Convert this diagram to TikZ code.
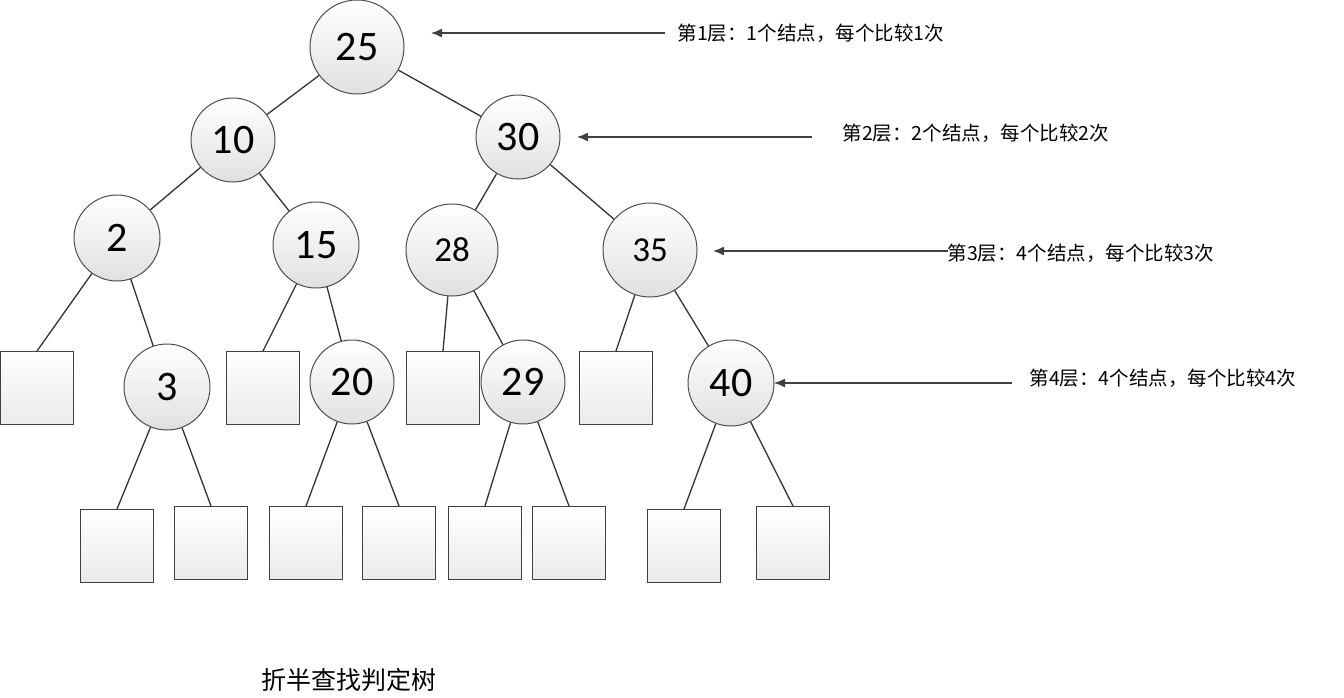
\documentclass[tikz,border=0pt]{standalone}
\usepackage{fontspec}
\setmainfont{Carlito}
\newfontfamily\cjk{Noto Sans CJK SC}
\usetikzlibrary{arrows.meta}
\begin{document}
\begin{tikzpicture}[x=1pt,y=-1pt,
  cnode/.style={circle,draw=black!70,line width=1pt,top color=white,bottom color=black!12,inner sep=0pt,font=\fontsize{42}{42}\selectfont},
  leaf/.style={rectangle,draw=black!75,line width=1pt,top color=white,bottom color=black!8,minimum size=73pt,inner sep=0pt},
  edge/.style={draw=black!80,line width=1.3pt},
  arr/.style={draw=black!75,line width=1.4pt,-{Latex[length=11pt,width=9pt]}},
  lab/.style={anchor=west,font=\cjk\fontsize{19.5}{22}\selectfont}]
\useasboundingbox (0,0) rectangle (1344,697);
\node[cnode,minimum size=94pt] (n25) at (357,47) {25};
\node[cnode,minimum size=84pt] (n10) at (233,140) {10};
\node[cnode,minimum size=84pt] (n30) at (518,137) {30};
\node[cnode,minimum size=86pt] (n2) at (117,238) {2};
\node[cnode,minimum size=86pt] (n15) at (316,245) {15};
\node[cnode,minimum size=92pt,font=\fontsize{35}{35}\selectfont] (n28) at (452,250) {28};
\node[cnode,minimum size=94pt,font=\fontsize{35}{35}\selectfont] (n35) at (650,250) {35};
\node[cnode,minimum size=86pt] (n3) at (167,387) {3};
\node[cnode,minimum size=84pt] (n20) at (352,382) {20};
\node[cnode,minimum size=84pt] (n29) at (523,382) {29};
\node[cnode,minimum size=86pt] (n40) at (731,383) {40};
\node[leaf] (s1) at (37,388) {};
\node[leaf] (s2) at (263,388) {};
\node[leaf] (s3) at (443,388) {};
\node[leaf] (s4) at (616,388) {};
\node[leaf] (b1) at (117,546) {};
\node[leaf] (b2) at (211,543) {};
\node[leaf] (b3) at (306,543) {};
\node[leaf] (b4) at (399,543) {};
\node[leaf] (b5) at (485,543) {};
\node[leaf] (b6) at (569,543) {};
\node[leaf] (b7) at (684,546) {};
\node[leaf] (b8) at (793,543) {};
\draw[edge] (n25) -- (n10); \draw[edge] (n25) -- (n30);
\draw[edge] (n10) -- (n2); \draw[edge] (n10) -- (n15);
\draw[edge] (n30) -- (n28); \draw[edge] (n30) -- (n35);
\draw[edge] (n2) -- (s1.north); \draw[edge] (n2) -- (n3);
\draw[edge] (n15) -- (s2.north); \draw[edge] (n15) -- (n20);
\draw[edge] (n28) -- (s3.north); \draw[edge] (n28) -- (n29);
\draw[edge] (n35) -- (s4.north); \draw[edge] (n35) -- (n40);
\draw[edge] (n3) -- (b1.north); \draw[edge] (n3) -- (b2.north);
\draw[edge] (n20) -- (b3.north); \draw[edge] (n20) -- (b4.north);
\draw[edge] (n29) -- (b5.north); \draw[edge] (n29) -- (b6.north);
\draw[edge] (n40) -- (b7.north); \draw[edge] (n40) -- (b8.north);
\node[lab] (l1) at (674,33) {第1层：1个结点，每个比较1次};
\node[lab] (l2) at (839,133) {第2层：2个结点，每个比较2次};
\node[lab] (l3) at (944,253) {第3层：4个结点，每个比较3次};
\node[lab] (l4) at (1026,378) {第4层：4个结点，每个比较4次};
\coordinate (a1) at (665,33); \coordinate (t1) at (431,33);
\coordinate (a2) at (812,137); \coordinate (t2) at (577,137);
\coordinate (a3) at (948,251); \coordinate (t3) at (713,251);
\coordinate (a4) at (1012,383); \coordinate (t4) at (774,383);
\draw[arr] (a1) -- (t1); \draw[arr] (a2) -- (t2);
\draw[arr] (a3) -- (t3); \draw[arr] (a4) -- (t4);
\node[font=\cjk\fontsize{25}{28}\selectfont] (title) at (349,680) {折半查找判定树};
\end{tikzpicture}
\end{document}
